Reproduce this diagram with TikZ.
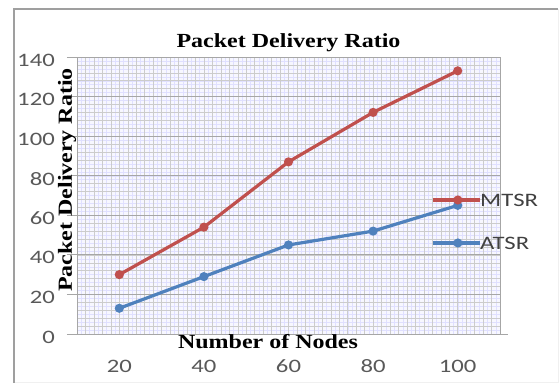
\documentclass[tikz,border=0pt]{standalone}
\usepackage{fontspec}
\usetikzlibrary{calc}
\newfontfamily\titlefont[FakeStretch=1.2]{Liberation Serif}
\newfontfamily\tickfont[FakeStretch=1.3]{Carlito}
\definecolor{mtsrred}{HTML}{C0504D}
\definecolor{atsrblue}{HTML}{4F81BD}
\definecolor{ticktext}{HTML}{595959}
\tikzset{
  heading/.style={font=\titlefont\bfseries\fontsize{20}{22}\selectfont,text=black,inner sep=0pt},
  ticklabel/.style={font=\tickfont\fontsize{19}{22}\selectfont,text=ticktext,inner sep=0pt},
  mtsr/.style={draw=mtsrred,line width=3.2pt,line join=round},
  atsr/.style={draw=atsrblue,line width=3.2pt,line join=round},
}

\begin{document}
\begin{tikzpicture}[x=1pt,y=1pt]
  \useasboundingbox (0,0) rectangle (560,385);
  \fill[white] (0,0) rectangle (560,385);
  \draw[gray!12,line width=1pt] (14,2) -- (558,2) -- (558,376);
  \draw[gray!75,line width=1.4pt] (14,2) -- (14,376) -- (558,376);

  \node[heading,anchor=base] (title) at (288.5,337) {Packet Delivery Ratio};

  \begin{scope}[shift={(77,51)},x=84.6pt,y=1.97857pt]
    \fill[blue!3] (0,0) rectangle (5,140);
    \draw[blue!12,line width=0.4pt,step={(0.05,2)}] (0,0) grid (5,140);
    \draw[gray!40,line width=0.5pt,step={(0.1,4)}] (0,0) grid (5,140);
    \draw[gray!70,line width=0.8pt,step={(5,20)}] (0,0) grid (5,140);
    \draw[gray!70,line width=0.8pt] (0,0) -- (5.1,0);
    \foreach \v in {0,20,...,140}{
      \draw[gray!70,line width=0.8pt] (-0.12,\v) -- (0,\v);
      \node[ticklabel,anchor=east,yshift=-3pt] (y\v) at (-0.26,\v) {\v};
    }
    \foreach \n/\x in {20/0.5,40/1.5,60/2.5,80/3.5,100/4.5}
      \node[ticklabel,anchor=base] (x\n) at (\x,-19.7) {\n};

    \coordinate (m1) at (0.5,30);
    \coordinate (m2) at (1.5,54);
    \coordinate (m3) at (2.5,87);
    \coordinate (m4) at (3.5,112);
    \coordinate (m5) at (4.5,133);
    \coordinate (a1) at (0.5,13);
    \coordinate (a2) at (1.5,29);
    \coordinate (a3) at (2.5,45);
    \coordinate (a4) at (3.5,52);
    \coordinate (a5) at (4.5,65);

    \draw[mtsr] (m1) -- (m2) -- (m3) -- (m4) -- (m5);
    \draw[atsr] (a1) -- (a2) -- (a3) -- (a4) -- (a5);
    \foreach \i in {1,...,5}{
      \fill[mtsrred] (m\i) circle[radius=4.6pt];
      \fill[atsrblue] (a\i) circle[radius=4.6pt];
    }
  \end{scope}

  \node[heading,rotate=90] (ylabel) at (67,205) {Packet Delivery Ratio};
  \node[heading,anchor=base] (xlabel) at (268,36) {Number of Nodes};

  \coordinate (lm1) at (433,185);
  \coordinate (lm2) at (480,185);
  \coordinate (la1) at (433,142);
  \coordinate (la2) at (480,142);
  \draw[mtsr] (lm1) -- (lm2);
  \fill[mtsrred] ($(lm1)!0.53!(lm2)$) circle[radius=4.6pt];
  \node[ticklabel,text=black!75,anchor=west] (lmtsr) at (lm2) {MTSR};
  \draw[atsr] (la1) -- (la2);
  \fill[atsrblue] ($(la1)!0.53!(la2)$) circle[radius=4.6pt];
  \node[ticklabel,text=black!75,anchor=west] (latsr) at (la2) {ATSR};
\end{tikzpicture}
\end{document}
